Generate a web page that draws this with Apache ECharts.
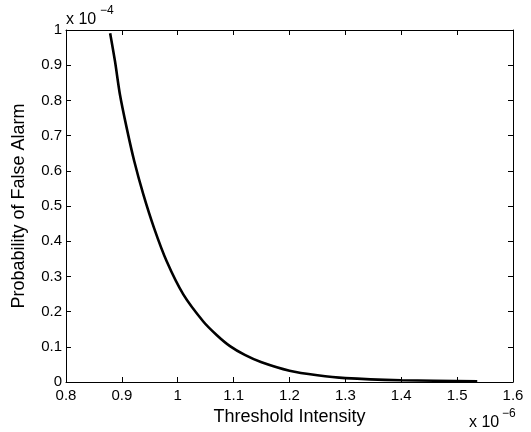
<!DOCTYPE html>
<html>
<head>
<meta charset="utf-8">
<script src="https://cdn.jsdelivr.net/npm/echarts@6/dist/echarts.min.js"></script>
<style>
html,body{margin:0;padding:0;background:#fff;}
#chart{width:531px;height:432px;}
</style>
</head>
<body>
<div id="chart"></div>
<script>
// Threshold intensity (in units of 1e-6)
var thresholdX = [0.879, 0.8877, 0.8966, 0.9086, 0.9222, 0.9384, 0.9575, 0.9802, 1.0099, 1.0457, 1.07, 1.0935, 1.12, 1.15, 1.2, 1.25, 1.3, 1.4, 1.536];
// Probability of false alarm (in units of 1e-4)
var falseAlarmY = [0.991, 0.911, 0.816, 0.722, 0.627, 0.533, 0.438, 0.343, 0.249, 0.172, 0.133, 0.102, 0.077, 0.056, 0.032, 0.019, 0.011, 0.005, 0.002];
var xTickMin = 0.8, xTickMax = 1.6, xTickStep = 0.1;
var yTickMin = 0, yTickMax = 1, yTickStep = 0.1;
var xTitle = 'Threshold Intensity';
var yTitle = 'Probability of False Alarm';
var xExponent = '−6';
var yExponent = '−4';

var FONT = '"Liberation Sans", Arial, Helvetica, sans-serif';
var chart = echarts.init(document.getElementById('chart'), null, {renderer: 'canvas'});
var axisCommon = {
  type: 'value',
  axisLine: {show: true, onZero: false, lineStyle: {color: '#000', width: 1}},
  axisTick: {show: true, inside: true, length: 5, lineStyle: {color: '#000', width: 1}},
  splitLine: {show: false}
};
var pts = thresholdX.map(function (x, i) { return [x, falseAlarmY[i]]; });
function txt(x, y, s, size) {
  return {type: 'text', x: x, y: y, silent: true,
    style: {text: s, fontSize: size, fontFamily: FONT, fill: '#000', align: 'left', verticalAlign: 'middle'}};
}
chart.setOption({
  animation: false,
  backgroundColor: '#fff',
  textStyle: {fontFamily: FONT},
  grid: {left: 66, top: 30, right: 18, bottom: 50},
  xAxis: [
    Object.assign({}, axisCommon, {
      position: 'bottom', min: xTickMin, max: xTickMax, interval: xTickStep,
      axisLabel: {color: '#000', fontSize: 15, fontFamily: FONT, margin: 6},
      name: xTitle, nameLocation: 'middle', nameGap: 24,
      nameTextStyle: {color: '#000', fontSize: 18, fontFamily: FONT}
    }),
    Object.assign({}, axisCommon, {
      position: 'top', min: xTickMin, max: xTickMax, interval: xTickStep,
      axisLabel: {show: false}
    })
  ],
  yAxis: [
    Object.assign({}, axisCommon, {
      position: 'left', min: yTickMin, max: yTickMax, interval: yTickStep,
      axisLabel: {color: '#000', fontSize: 15, fontFamily: FONT, margin: 4},
      name: yTitle, nameLocation: 'middle', nameGap: 38,
      nameTextStyle: {color: '#000', fontSize: 18, fontFamily: FONT}
    }),
    Object.assign({}, axisCommon, {
      position: 'right', min: yTickMin, max: yTickMax, interval: yTickStep,
      axisLabel: {show: false}
    })
  ],
  series: [{
    type: 'line',
    data: pts,
    smooth: 0.3,
    showSymbol: false,
    lineStyle: {color: '#000', width: 2.6},
    xAxisIndex: 0, yAxisIndex: 0
  }],
  graphic: [
    txt(66, 20, 'x 10', 16),
    txt(100, 11, yExponent, 12),
    txt(469, 423, 'x 10', 16),
    txt(502, 414, xExponent, 12)
  ]
});
</script>
</body>
</html>
